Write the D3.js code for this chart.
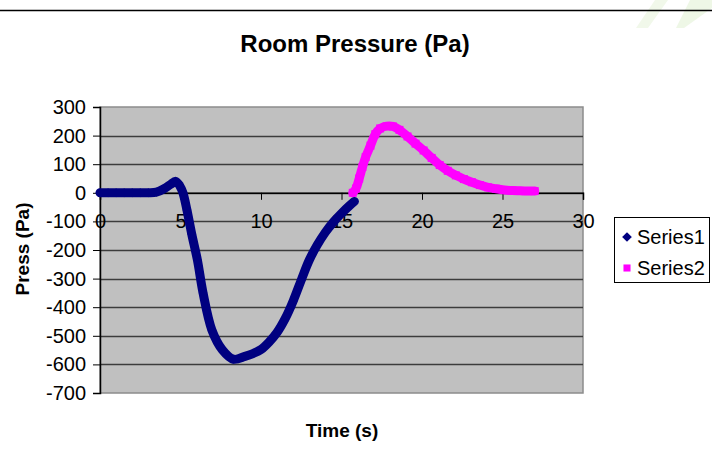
<!DOCTYPE html>
<html>
<head>
<meta charset="utf-8">
<script src="https://cdn.jsdelivr.net/npm/d3@7"></script>
<style>
  body { margin: 0; background: #fff; }
  svg { display: block; font-family: Arial, "Liberation Sans", sans-serif; }
</style>
</head>
<body>
<svg id="chart" width="712" height="459"></svg>
<script>
// --- values ---
var s1Time = [0, 0.5, 1, 1.5, 2, 2.5, 3, 3.5, 4, 4.4, 4.7, 4.95, 5.15, 5.4, 5.7, 6.05, 6.4, 6.95, 7.6, 8.3,
  9.0, 9.5, 10.0, 10.5, 11.0, 11.5, 12.0, 12.5, 13.0, 13.5, 14.0, 14.5, 15.0, 15.5, 15.8];
var s1Press = [0, 0, 0, 0, 0, 0, 0, 2, 15, 30, 40, 25, 0, -60, -145, -235, -350, -480, -549, -582,
  -572, -562, -548, -522, -488, -440, -378, -305, -235, -182, -138, -102, -72, -45, -30];

var s2Time = [15.7, 15.9, 16.1, 16.3, 16.5, 16.8, 17.1, 17.4, 17.8, 18.2, 18.6, 19.1, 19.6, 20.1, 20.6, 21.1,
  21.6, 22.1, 22.6, 23.1, 23.6, 24.1, 24.6, 25.1, 25.6, 26.1, 26.6, 27.0];
var s2Press = [0, 15, 50, 90, 125, 165, 205, 225, 233, 232, 220, 197, 172, 148, 122, 97,
  77, 61, 48, 37, 27, 19, 14, 10, 8, 7, 6, 6];

var xTicks = [0, 5, 10, 15, 20, 25, 30];
var yTicks = [300, 200, 100, 0, -100, -200, -300, -400, -500, -600, -700];
var seriesNames = ["Series1", "Series2"];
var seriesColors = ["#000080", "#ff00ff"];

var svg = d3.select("#chart");
var fontFam = "Arial, 'Liberation Sans', sans-serif";

// faint slide decoration top right
svg.append("path").attr("d", "M655,0 L668,0 L648,28 L636,28 Z").attr("fill", "#f1f8ea");
svg.append("path").attr("d", "M690,0 L712,0 L712,8 L684,28 L676,28 Z").attr("fill", "#eef7e6");
svg.append("line").attr("x1", 0).attr("x2", 712).attr("y1", 10.5).attr("y2", 10.5)
  .attr("stroke", "#000").attr("stroke-width", 1.5);

var plot = { left: 100, right: 583, top: 107, bottom: 393 };
var x = d3.scaleLinear().domain([0, 30]).range([plot.left, plot.right]);
var y = d3.scaleLinear().domain([-700, 300]).range([plot.bottom, plot.top]);

// title
svg.append("text").attr("x", 355).attr("y", 52).attr("text-anchor", "middle")
  .attr("font-size", 24).attr("font-weight", "bold").text("Room Pressure (Pa)");

// plot area
svg.append("rect").attr("x", plot.left).attr("y", plot.top)
  .attr("width", plot.right - plot.left).attr("height", plot.bottom - plot.top)
  .attr("fill", "#c0c0c0").attr("stroke", "#8c8c8c").attr("stroke-width", 1.5);

// horizontal gridlines
svg.append("g").selectAll("line").data(yTicks.slice(1, -1)).enter().append("line")
  .attr("x1", plot.left).attr("x2", plot.right)
  .attr("y1", function(d) { return Math.round(y(d)) + 0.5; })
  .attr("y2", function(d) { return Math.round(y(d)) + 0.5; })
  .attr("stroke", "#3c3c3c").attr("stroke-width", 1.5);

// y axis
var yAxis = d3.axisLeft(y).tickValues(yTicks).tickSize(7).tickPadding(7)
  .tickFormat(function(d) { return String(d); });
var gy = svg.append("g").attr("transform", "translate(" + plot.left + ",0)").call(yAxis);
gy.select(".domain").attr("stroke", "#000").attr("stroke-width", 1.5);
gy.selectAll(".tick line").attr("stroke", "#000");
gy.selectAll("text").attr("font-size", 20).attr("fill", "#000").attr("font-family", fontFam);

// x axis crossing at 0
var xAxis = d3.axisBottom(x).tickValues(xTicks).tickSize(7).tickPadding(14)
  .tickFormat(function(d) { return String(d); });
var gx = svg.append("g").attr("transform", "translate(0," + y(0) + ")").call(xAxis);
gx.select(".domain").attr("stroke", "#000").attr("stroke-width", 1.5);
gx.selectAll(".tick line").attr("stroke", "#000");
gx.selectAll("text").attr("font-size", 20).attr("fill", "#000").attr("font-family", fontFam);

// axis titles
svg.append("text").attr("transform", "translate(29,249) rotate(-90)").attr("text-anchor", "middle")
  .attr("font-size", 19).attr("font-weight", "bold").text("Press (Pa)");
svg.append("text").attr("x", 342).attr("y", 437).attr("text-anchor", "middle")
  .attr("font-size", 19).attr("font-weight", "bold").text("Time (s)");

// series
var series = [
  { t: s1Time, p: s1Press, sym: d3.symbolDiamond2 },
  { t: s2Time, p: s2Press, sym: d3.symbolSquare }
];
var line = d3.line().curve(d3.curveCatmullRom.alpha(0.5))
  .x(function(d) { return x(d[0]); }).y(function(d) { return y(d[1]); });

series.forEach(function(s, i) {
  var pts = s.t.map(function(t, k) { return [t, s.p[k]]; });
  svg.append("path").datum(pts).attr("d", line).attr("fill", "none")
    .attr("stroke", seriesColors[i]).attr("stroke-width", 9)
    .attr("stroke-linejoin", "round").attr("stroke-linecap", "round");
  svg.append("g").selectAll("path").data(pts).enter().append("path")
    .attr("transform", function(d) { return "translate(" + x(d[0]) + "," + y(d[1]) + ")"; })
    .attr("d", d3.symbol().type(s.sym).size(i ? 64 : 50))
    .attr("fill", seriesColors[i]);
});

// legend
var lg = svg.append("g").attr("transform", "translate(614,217)");
lg.append("rect").attr("x", 0.5).attr("y", 0.5).attr("width", 95).attr("height", 65)
  .attr("fill", "#fff").attr("stroke", "#000");
seriesNames.forEach(function(name, i) {
  var row = lg.append("g").attr("transform", "translate(13," + (20 + i * 31) + ")");
  row.append("path").attr("d", d3.symbol().type(series[i].sym).size(i ? 50 : 60))
    .attr("fill", seriesColors[i]);
  row.append("text").attr("x", 10).attr("y", 7).attr("font-size", 20).text(name);
});
</script>
</body>
</html>
